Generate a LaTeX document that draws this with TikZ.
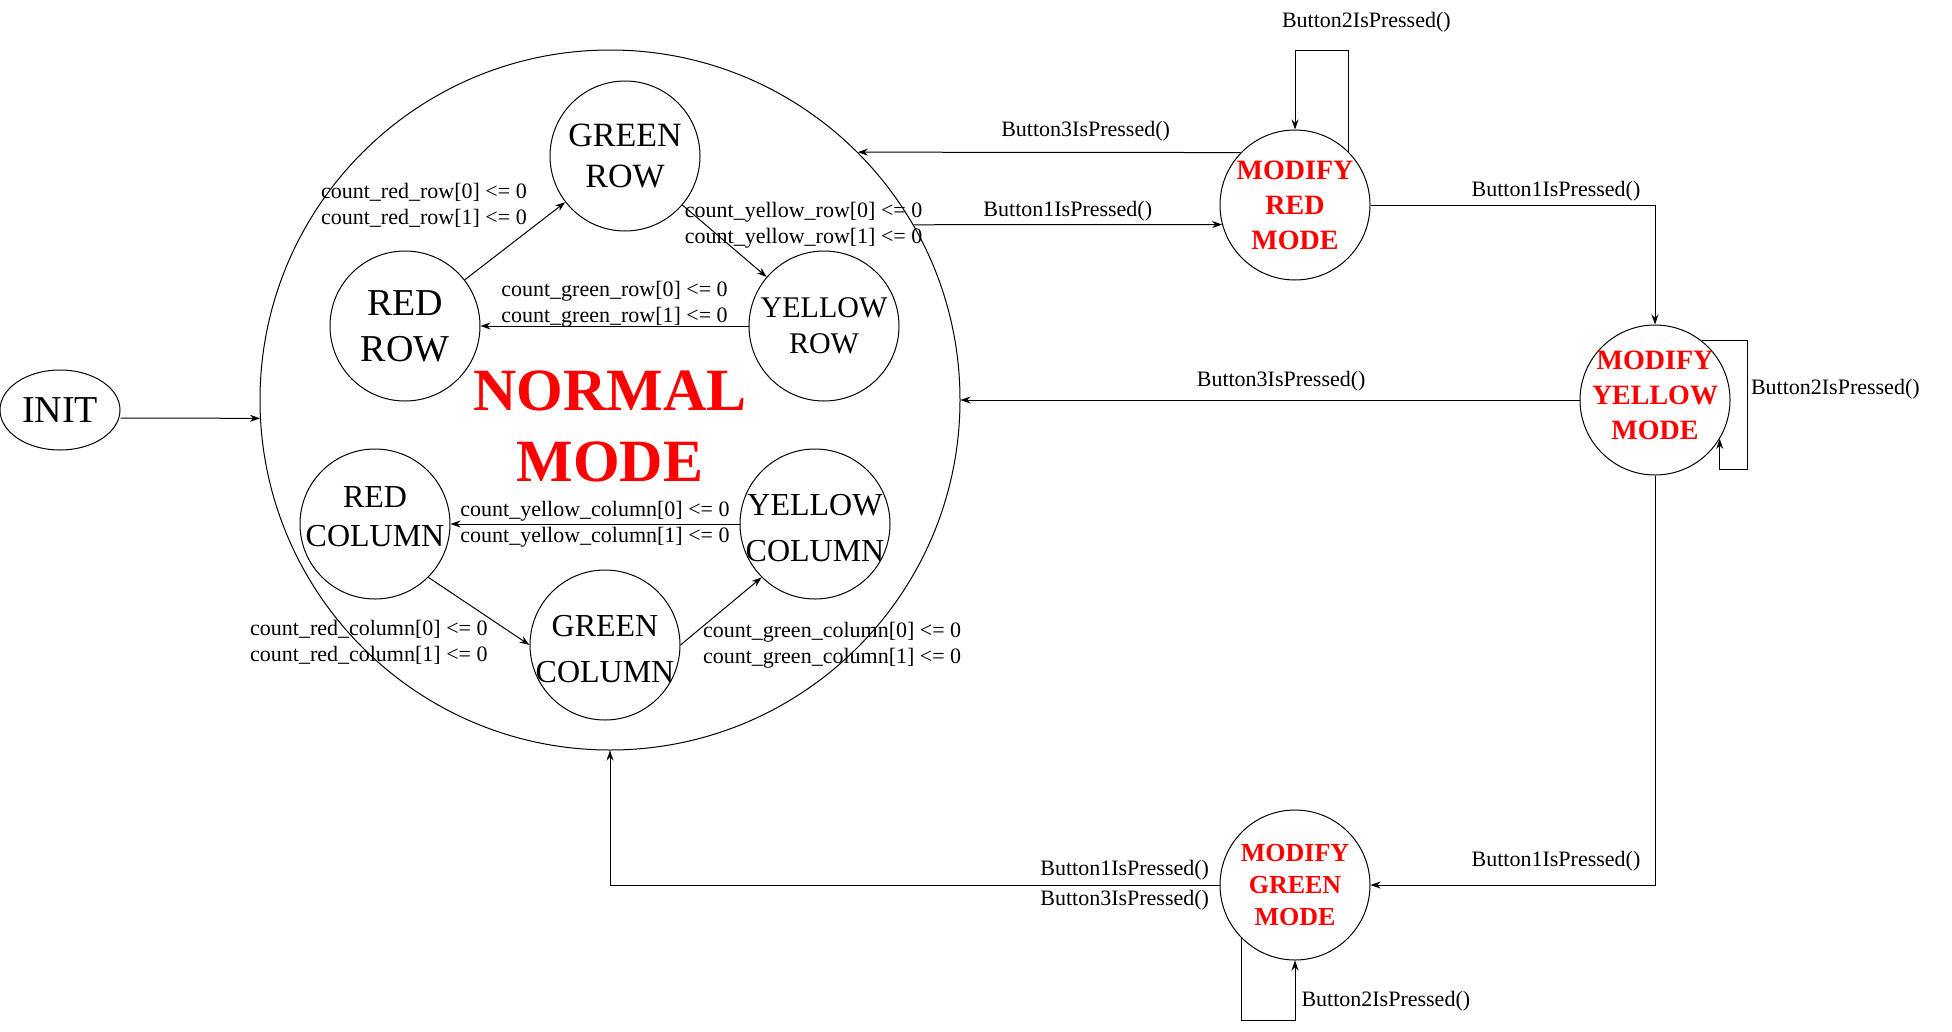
\documentclass[tikz,border=0pt]{standalone}
\usepackage{fontspec}
\setmainfont{Liberation Serif}
\usetikzlibrary{arrows.meta,shapes.geometric}
\definecolor{modered}{RGB}{255,0,0}
\tikzset{
statenode/.style={draw,circle,minimum size=150pt,inner sep=-22pt,align=center},
statetext/.style={align=center,inner sep=0pt},
modestate/.style={statenode,text=modered,font=\fontsize{28}{35}\selectfont\bfseries},
lbl/.style={inner sep=2pt,font=\fontsize{22}{26}\selectfont},
arrow/.style={-{Stealth[length=10pt,width=7pt]},line width=1pt}
}
\begin{document}
\begin{tikzpicture}[x=1pt,y=-1pt,line width=1pt]
\useasboundingbox (0,0) rectangle (1952,1031);
\node[draw,ellipse,minimum width=120pt,minimum height=80pt,inner sep=0pt,font=\fontsize{38}{44}\selectfont] (init) at (60,410) {INIT};
\node[draw,circle,minimum size=700pt,inner sep=0pt] (normal) at (610,400) {};
\node[text=modered,font=\fontsize{60}{71}\selectfont\bfseries,align=center] (normaltitle) at (610,426) {NORMAL\\MODE};

\node[statenode,font=\fontsize{34}{41}\selectfont] (greenrow) at (625,156) {GREEN\\ROW};
\node[statenode,font=\fontsize{38}{46}\selectfont] (redrow) at (405,326) {RED\\ROW};
\node[statenode,font=\fontsize{30}{36}\selectfont] (yellowrow) at (824,326) {YELLOW\\ROW};
\node[statenode,label={[statetext,yshift=7pt,font=\fontsize{32}{39}\selectfont]center:RED\\COLUMN}] (redcol) at (375,524) {};
\node[statenode,label={[statetext,yshift=-4pt,font=\fontsize{32}{46}\selectfont]center:YELLOW\\COLUMN}] (yellowcol) at (815,524) {};
\node[statenode,label={[statetext,yshift=-4pt,font=\fontsize{32}{46}\selectfont]center:GREEN\\COLUMN}] (greencol) at (605,645) {};

\node[modestate] (modred) at (1295,205) {MODIFY\\RED\\MODE};
\node[statenode,label={[statetext,yshift=5pt,text=modered,font=\fontsize{28}{35}\selectfont\bfseries]center:MODIFY\\YELLOW\\MODE}] (modyellow) at (1655,400) {};
\node[modestate,font=\fontsize{26}{32}\selectfont\bfseries] (modgreen) at (1295,885) {MODIFY\\GREEN\\MODE};

\draw[arrow] ([yshift=-8pt]init.east) -- (normal.183);

\draw[arrow] (redrow) -- node[lbl,pos=0.96,left=32pt,align=center]{count\_red\_row[0] <= 0\\count\_red\_row[1] <= 0} (greenrow);
\draw[arrow] (greenrow) -- node[lbl,pos=0,anchor=west,yshift=-20pt,align=left]{count\_yellow\_row[0] <= 0\\count\_yellow\_row[1] <= 0} (yellowrow);
\draw[arrow] (yellowrow) -- node[lbl,above=-3pt,inner sep=1pt,align=center]{count\_green\_row[0] <= 0\\count\_green\_row[1] <= 0} (redrow);
\draw[arrow] (yellowcol) -- node[lbl,align=center]{count\_yellow\_column[0] <= 0\\count\_yellow\_column[1] <= 0} (redcol);
\draw[arrow] (redcol.south east) -- node[lbl,pos=0.956,left=35pt,align=center]{count\_red\_column[0] <= 0\\count\_red\_column[1] <= 0} (greencol.west);
\draw[arrow] (greencol.east) -- node[lbl,pos=0,right=20pt,align=center]{count\_green\_column[0] <= 0\\count\_green\_column[1] <= 0} (yellowcol.south west);

\draw[arrow] (modred.136) -- node[lbl,pos=0.405,above=9pt]{Button3IsPressed()} (normal.45);
\draw[arrow] (normal.30) -- node[lbl,above=1pt]{Button1IsPressed()} (modred.195);
\draw[arrow] (modred.45) -- ++(0,-101) node[lbl,above=16pt,xshift=18pt]{Button2IsPressed()} -| (modred.north);
\draw[arrow] (modred.east) -| node[lbl,pos=0.326,above=1pt]{Button1IsPressed()} (modyellow.north);
\draw[arrow] (modyellow.west) -- node[lbl,pos=0.482,above=6pt]{Button3IsPressed()} (normal.east);
\draw[arrow] (modyellow.52) -- ++(46,0) |- node[lbl,pos=0.19,right=1pt]{Button2IsPressed()} ([yshift=-31pt]modyellow.-31) -- (modyellow.-31);
\draw[arrow] (modyellow.south) |- node[lbl,pos=0.674,above=11pt]{Button1IsPressed()} (modgreen.east);
\draw[arrow] (modgreen.west) node[lbl,left=8pt,align=center,font=\fontsize{22}{30}\selectfont]{Button1IsPressed()\\Button3IsPressed()} -| (normal.south);
\draw[arrow] (modgreen.-135) |- ([yshift=-60pt]modgreen.south) -- node[lbl,pos=0.33,right=4pt]{Button2IsPressed()} (modgreen.south);
\end{tikzpicture}
\end{document}
